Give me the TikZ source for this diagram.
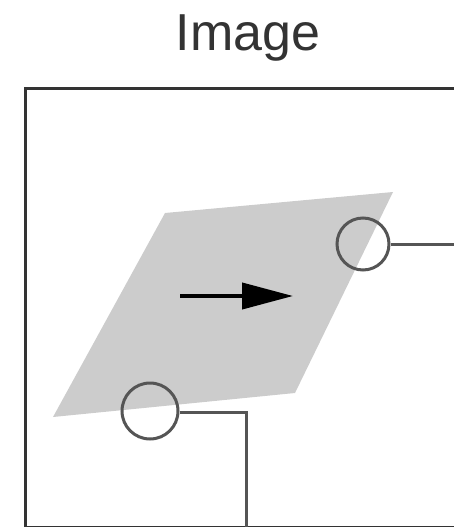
\documentclass[tikz,border=0pt]{standalone}
\usepackage{fontspec}
\setmainfont{Liberation Sans}
\usetikzlibrary{arrows.meta}
\definecolor{planegray}{RGB}{204,204,204}
\definecolor{framecol}{RGB}{51,51,51}
\definecolor{linecol}{RGB}{85,85,85}
\begin{document}
\begin{tikzpicture}[x=1pt,y=-1pt,
  port/.style={circle,draw=linecol,line width=3pt,inner sep=0pt},
  wire/.style={draw=linecol,line width=3pt},
  framestyle/.style={draw=framecol,line width=3pt}]
\useasboundingbox (0,0) rectangle (453,527);
\node[font=\fontsize{52}{60}\selectfont,text=framecol] (title) at (248,38) {Image};
\fill[planegray] (165,213) -- (393,192) -- (295,393) -- (53,417) -- cycle;
\draw[framestyle] (460,88) -- (25,88) -- (25,527.5) -- (460,527.5);
\draw[line width=4pt,-{Triangle[length=51pt,width=26pt]}] (180,296) -- (293,296);
\node[port,minimum size=52pt] (p1) at (363,244) {};
\node[port,minimum size=56pt] (p2) at (150,411) {};
\coordinate (e1) at (460,244);
\coordinate (k2) at (246,412);
\coordinate (e2) at (246,530);
\draw[wire] (p1.east) -- (e1);
\draw[wire] (p2.east |- k2) -- (k2) -- (e2);
\end{tikzpicture}
\end{document}
